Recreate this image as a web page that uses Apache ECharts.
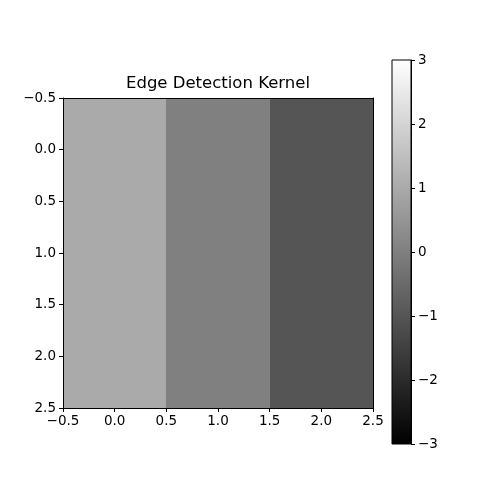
<!DOCTYPE html>
<html>
<head>
<meta charset="utf-8">
<script src="https://cdn.jsdelivr.net/npm/echarts@6/dist/echarts.min.js"></script>
<style>
  html, body { margin: 0; padding: 0; background: #fff; }
  #main { width: 500px; height: 500px; }
</style>
</head>
<body>
<div id="main"></div>
<script>
// kernel values, one row per line
var kernelRow0 = [1, 0, -1];
var kernelRow1 = [1, 0, -1];
var kernelRow2 = [1, 0, -1];
var colorMin = -3;
var colorMax = 3;
var titleText = 'Edge Detection Kernel';

var rows = [kernelRow0, kernelRow1, kernelRow2];
var cells = [];
for (var r = 0; r < rows.length; r++) {
  for (var c = 0; c < rows[r].length; c++) {
    cells.push([c, r, rows[r][c]]);
  }
}

var font = 'DejaVu Sans';
function fmt1(v) { return v.toFixed(1).replace('-', '\u2212'); }
function fmt0(v) { return String(v).replace('-', '\u2212'); }

var axisBase = {
  axisLine: { show: true, onZero: false, lineStyle: { color: '#000', width: 1 } },
  axisTick: { show: true, inside: false, length: 4, lineStyle: { color: '#000' } },
  splitLine: { show: false },
  z: 5
};

var myChart = echarts.init(document.getElementById('main'));
var option = {
  animation: false,
  backgroundColor: '#fff',
  textStyle: { fontFamily: font },
  graphic: [{
    type: 'text',
    x: 218,
    y: 84,
    style: {
      text: titleText,
      font: '16.5px "DejaVu Sans"',
      fill: '#000',
      textAlign: 'center',
      textVerticalAlign: 'middle'
    }
  }],
  grid: [
    { left: 63, top: 98, width: 310, height: 310 },
    { left: 392, top: 60, width: 19, height: 384 }
  ],
  visualMap: {
    show: false,
    seriesIndex: 0,
    dimension: 2,
    min: colorMin,
    max: colorMax,
    inRange: { color: ['#000000', '#ffffff'] }
  },
  xAxis: [
    Object.assign({}, axisBase, {
      gridIndex: 0, type: 'value', position: 'bottom',
      min: -0.5, max: 2.5, interval: 0.5,
      axisLabel: { color: '#000', fontSize: 13.5, margin: 6, formatter: fmt1, fontFamily: font }
    }),
    Object.assign({}, axisBase, {
      gridIndex: 0, type: 'value', position: 'top',
      min: -0.5, max: 2.5, axisTick: { show: false }, axisLabel: { show: false }
    }),
    { gridIndex: 1, type: 'value', min: 0, max: 1, show: false }
  ],
  yAxis: [
    Object.assign({}, axisBase, {
      gridIndex: 0, type: 'value', position: 'left', inverse: true,
      min: -0.5, max: 2.5, interval: 0.5,
      axisLabel: { color: '#000', fontSize: 13.5, margin: 7, formatter: fmt1, fontFamily: font }
    }),
    Object.assign({}, axisBase, {
      gridIndex: 0, type: 'value', position: 'right', inverse: true,
      min: -0.5, max: 2.5, axisTick: { show: false }, axisLabel: { show: false }
    }),
    Object.assign({}, axisBase, {
      gridIndex: 1, type: 'value', position: 'right',
      min: colorMin, max: colorMax, interval: 1,
      axisLabel: { color: '#000', fontSize: 13.5, margin: 7, formatter: fmt0, fontFamily: font }
    })
  ],
  series: [
    {
      type: 'custom',
      xAxisIndex: 0,
      yAxisIndex: 0,
      data: cells,
      renderItem: function (params, api) {
        var x = api.value(0), y = api.value(1);
        var p0 = api.coord([x - 0.5, y - 0.5]);
        var p1 = api.coord([x + 0.5, y + 0.5]);
        var x0 = Math.round(Math.min(p0[0], p1[0]));
        var x1 = Math.round(Math.max(p0[0], p1[0]));
        var y0 = Math.round(Math.min(p0[1], p1[1]));
        var y1 = Math.round(Math.max(p0[1], p1[1]));
        return {
          type: 'rect',
          shape: { x: x0, y: y0, width: x1 - x0, height: y1 - y0 },
          style: { fill: api.visual('color') }
        };
      }
    },
    {
      type: 'custom',
      xAxisIndex: 2,
      yAxisIndex: 2,
      data: [[0, colorMin, colorMax]],
      renderItem: function (params, api) {
        var top = api.coord([0, api.value(2)]);
        var bottom = api.coord([1, api.value(1)]);
        return {
          type: 'rect',
          shape: {
            x: top[0], y: top[1],
            width: bottom[0] - top[0], height: bottom[1] - top[1]
          },
          style: {
            fill: new echarts.graphic.LinearGradient(0, 0, 0, 1, [
              { offset: 0, color: '#ffffff' },
              { offset: 1, color: '#000000' }
            ]),
            stroke: '#000',
            lineWidth: 1
          }
        };
      }
    }
  ]
};
myChart.setOption(option);
</script>
</body>
</html>
